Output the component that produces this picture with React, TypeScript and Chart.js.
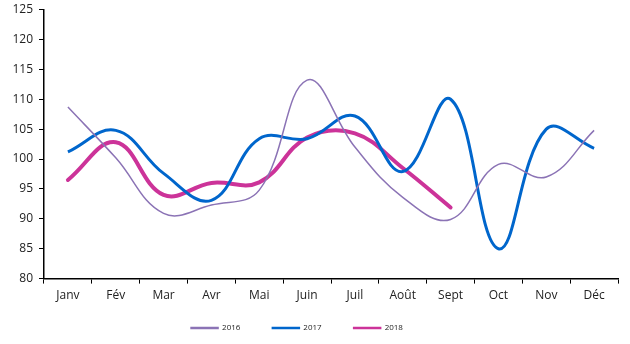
import React, { useEffect, useRef } from "react";
import { Chart, registerables } from "chart.js";

Chart.register(...registerables);

const categories = ["Janv", "Fév", "Mar", "Avr", "Mai", "Juin", "Juil", "Août", "Sept", "Oct", "Nov", "Déc"];
const series2016 = [108.7, 100.2, 90.9, 92.3, 94.8, 113.2, 102.0, 93.6, 89.9, 99.1, 97.0, 104.8];
const series2017 = [101.2, 104.8, 97.6, 93.1, 103.4, 103.4, 107.2, 97.9, 110.0, 85.0, 105.0, 101.8];
const series2018 = [96.5, 102.8, 94.0, 96.0, 96.1, 103.6, 104.3, 98.5, 91.9, null, null, null];
const yTicks = [80, 85, 90, 95, 100, 105, 110, 115, 120, 125];

const legendShift = {
  id: "legendShift",
  afterLayout(chart: any) {
    const lg = chart.legend;
    if (lg) {
      lg.left -= 12;
      lg.right -= 12;
      const bottom = 342;
      lg.top = 329 - 37;
      lg.bottom = bottom;
      lg.height = bottom - lg.top;
    }
  },
};

export default function App() {
  const ref = useRef<HTMLCanvasElement | null>(null);
  useEffect(() => {
    document.body.style.margin = "0";
    const fontFamily = "'Open Sans', 'Liberation Sans', sans-serif";
    const chart = new Chart(ref.current!, {
      type: "line",
      data: {
        labels: categories,
        datasets: [
          { label: "2016", data: series2016, borderColor: "#8B73B5", backgroundColor: "#8B73B5", borderWidth: 1.5, pointRadius: 0, tension: 0.4 },
          { label: "2017", data: series2017, borderColor: "#0066CC", backgroundColor: "#0066CC", borderWidth: 3, pointRadius: 0, tension: 0.4 },
          { label: "2018", data: series2018, borderColor: "#CC3399", backgroundColor: "#CC3399", borderWidth: 4, pointRadius: 0, tension: 0.4, borderCapStyle: "round" },
        ],
      },
      plugins: [legendShift],
      options: {
        animation: false,
        responsive: false,
        maintainAspectRatio: false,
        layout: { padding: { left: 0, right: 12, top: 4, bottom: 6 } },
        scales: {
          x: {
            offset: true,
            grid: { drawOnChartArea: false, drawTicks: true, tickLength: 5, color: "#000", offset: true },
            border: { color: "#000", width: 1.5 },
            ticks: { color: "#222", font: { family: fontFamily, size: 12 }, padding: 5, maxRotation: 0, autoSkip: false },
          },
          y: {
            min: 80,
            max: 125,
            afterBuildTicks: (scale: any) => { scale.ticks = yTicks.map((v) => ({ value: v })); },
            afterFit: (scale: any) => { scale.width = 44; },
            grid: { drawOnChartArea: false, drawTicks: true, tickLength: 5, color: "#000" },
            border: { color: "#000", width: 1.5 },
            ticks: { color: "#222", font: { family: fontFamily, size: 12, lineHeight: 0.6 }, padding: 6 },
          },
        },
        plugins: {
          tooltip: { enabled: false },
          legend: {
            position: "bottom",
            maxHeight: 30,
            labels: {
              boxWidth: 27,
              boxHeight: 1,
              padding: 32,
              color: "#222",
              font: { family: fontFamily, size: 8 },
              generateLabels: (c: any) =>
                Chart.defaults.plugins.legend.labels.generateLabels(c).map((item: any) => ({ ...item, lineWidth: 1.5 })),
            },
          },
        },
      },
    });
    return () => chart.destroy();
  }, []);
  return (
    <div style={{ width: 630, height: 344 }}>
      <canvas ref={ref} width={630} height={344} style={{ display: "block" }} />
    </div>
  );
}
